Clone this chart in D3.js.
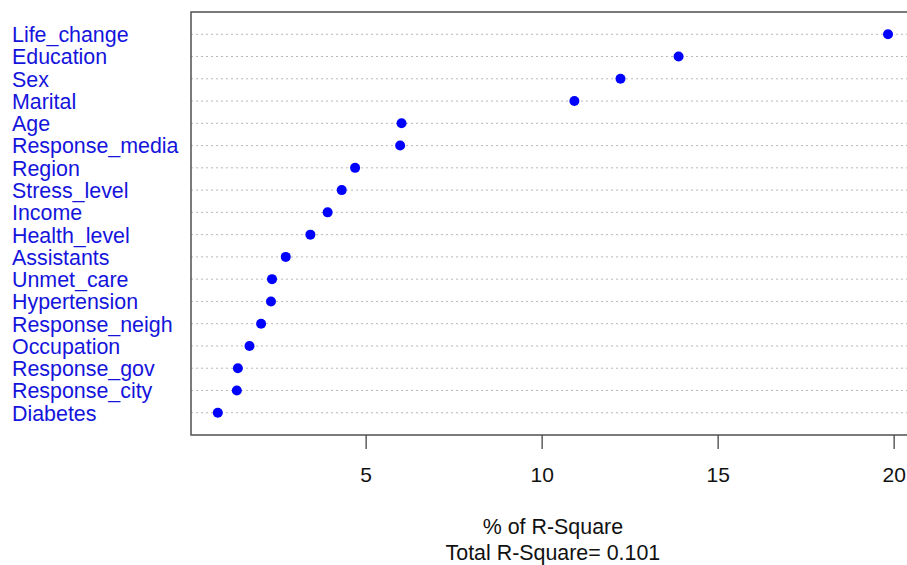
<!DOCTYPE html>
<html>
<head>
<meta charset="utf-8">
<script src="https://cdn.jsdelivr.net/npm/d3@7"></script>
<style>
  body { margin: 0; background: #fff; }
  svg text { font-family: "Liberation Sans", Arial, sans-serif; }
</style>
</head>
<body>
<svg id="viz"></svg>
<script>
const width = 907, height = 565;

// variables, top to bottom as drawn
const categories = ["Life_change", "Education", "Sex", "Marital", "Age", "Response_media",
  "Region", "Stress_level", "Income", "Health_level", "Assistants", "Unmet_care",
  "Hypertension", "Response_neigh", "Occupation", "Response_gov", "Response_city", "Diabetes"];
const pctR2 = [19.84, 13.89, 12.24, 10.93, 6.02, 5.98,
  4.70, 4.32, 3.92, 3.43, 2.73, 2.34,
  2.31, 2.03, 1.70, 1.37, 1.34, 0.80];
const xTicks = [5, 10, 15, 20];
const xLabel = "% of R-Square";
const subLabel = "Total R-Square= 0.101";

const svg = d3.select("#viz")
  .attr("width", width)
  .attr("height", height);

// R style 4% padding on x
const [lo, hi] = d3.extent(pctR2);
const pad = (hi - lo) * 0.04;
const plotLeft = 191, plotTop = 12, plotBottom = 435;
const x = d3.scaleLinear()
  .domain([lo - pad, hi + pad])
  .range([plotLeft, plotLeft + (hi - lo + 2 * pad) * 35.2]);

const n = categories.length;
const y = d3.scaleLinear()
  .domain([0, n + 1])
  .range([plotBottom, plotTop]);

const rowY = (d, i) => y(n - i);

// dotted guide lines
svg.append("g")
  .selectAll("line")
  .data(categories)
  .enter()
  .append("line")
  .attr("x1", x.range()[0])
  .attr("x2", x.range()[1])
  .attr("y1", rowY)
  .attr("y2", rowY)
  .attr("stroke", "#b8b8b8")
  .attr("stroke-width", 1)
  .attr("stroke-dasharray", "2,3");

// box
svg.append("rect")
  .attr("x", x.range()[0])
  .attr("y", plotTop)
  .attr("width", x.range()[1] - x.range()[0])
  .attr("height", plotBottom - plotTop)
  .attr("fill", "none")
  .attr("stroke", "#505050")
  .attr("stroke-width", 1.5);

// points
svg.append("g")
  .selectAll("circle")
  .data(pctR2)
  .enter()
  .append("circle")
  .attr("cx", d => x(d))
  .attr("cy", rowY)
  .attr("r", 5)
  .attr("fill", "#0000ff");

// category labels
svg.append("g")
  .selectAll("text")
  .data(categories)
  .enter()
  .append("text")
  .attr("x", 12)
  .attr("y", rowY)
  .attr("dy", "0.37em")
  .attr("font-size", "21.4px")
  .attr("fill", "#1414dc")
  .text(d => d);

// x axis
const xAxis = d3.axisBottom(x)
  .tickValues(xTicks)
  .tickSize(14)
  .tickPadding(18)
  .tickFormat(d3.format("d"));

const ax = svg.append("g")
  .attr("transform", `translate(0,${plotBottom})`)
  .call(xAxis);
ax.select(".domain").remove();
ax.selectAll("line").attr("stroke", "#444").attr("stroke-width", 1.3);
ax.selectAll("text")
  .attr("font-size", "21px")
  .attr("fill", "#111")
  .style("font-family", "'Liberation Sans', Arial, sans-serif");

const cx = (x.range()[0] + x.range()[1]) / 2;
svg.append("text")
  .attr("x", cx)
  .attr("y", 534)
  .attr("text-anchor", "middle")
  .attr("font-size", "21.4px")
  .attr("fill", "#111")
  .text(xLabel);

svg.append("text")
  .attr("x", cx)
  .attr("y", 560)
  .attr("text-anchor", "middle")
  .attr("font-size", "21.4px")
  .attr("fill", "#111")
  .text(subLabel);
</script>
</body>
</html>
